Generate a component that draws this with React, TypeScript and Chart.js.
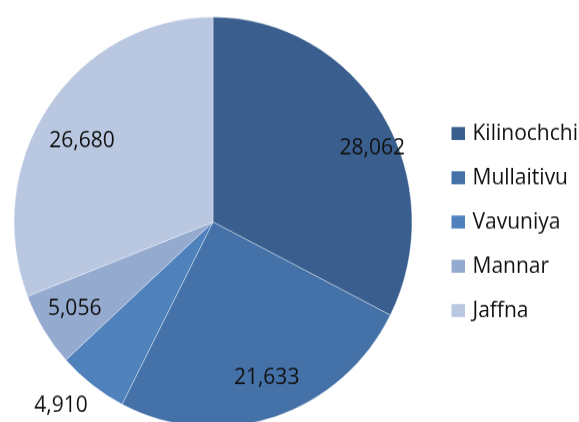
import React, { useEffect, useRef } from "react";
import { Chart, registerables } from "chart.js";

Chart.register(...registerables);

// ---- data ----
const categories = ["Kilinochchi", "Mullaitivu", "Vavuniya", "Mannar", "Jaffna"];
const values = [28062, 21633, 4910, 5056, 26680];
const colors = ["#3A5F8E", "#4472A8", "#4F81BD", "#95AACF", "#B9C7E1"];

// label placement relative to each slice (fraction of radius, angle nudge in degrees)
const labelRadius = [0.88, 0.8, 1.175, 0.81, 0.77];
const labelAngleShift = [6.9, -1.8, 3.1, 0.9, -3.1];

// ---- canvas geometry ----
const CSS_W = 579;
const CSS_H = 450;
const ATTR_H = 437;
const S = ATTR_H / CSS_H; // vertical squeeze (reference pie is slightly taller than wide)

const FONT = "21px 'Open Sans', 'DejaVu Sans', sans-serif";

const labelPlugin = {
  id: "sliceLabels",
  afterDatasetsDraw(chart: any) {
    const ctx = chart.ctx;
    const meta = chart.getDatasetMeta(0);
    ctx.save();
    ctx.font = FONT;
    ctx.fillStyle = "#111111";
    ctx.textAlign = "center";
    ctx.textBaseline = "alphabetic";
    meta.data.forEach((arc: any, i: number) => {
      const p = arc.getProps(["x", "y", "startAngle", "endAngle", "outerRadius"], true);
      const mid = (p.startAngle + p.endAngle) / 2 + (labelAngleShift[i] * Math.PI) / 180;
      const r = p.outerRadius * labelRadius[i];
      const x = p.x + r * Math.cos(mid);
      const y = p.y + r * Math.sin(mid);
      ctx.fillText(values[i].toLocaleString("en-US"), x, y + 7.4 * S);
    });
    ctx.restore();
  },
};

const legendPlugin = {
  id: "sideLegend",
  afterDraw(chart: any) {
    const ctx = chart.ctx;
    const area = chart.chartArea;
    const boxX = area.right + 39;
    const textX = boxX + 21;
    const firstBoxTop = 127 * S;
    const step = 44.25 * S;
    ctx.save();
    ctx.font = FONT;
    ctx.textAlign = "left";
    ctx.textBaseline = "alphabetic";
    categories.forEach((name, i) => {
      const top = firstBoxTop + i * step;
      ctx.fillStyle = colors[i];
      ctx.fillRect(boxX, top, 13.5, 13 * S);
      ctx.fillStyle = "#111111";
      ctx.fillText(name, textX, top + 13.2 * S);
    });
    ctx.restore();
  },
};

export default function App() {
  const ref = useRef<HTMLCanvasElement | null>(null);

  useEffect(() => {
    if (!ref.current) return;
    const chart = new Chart(ref.current, {
      type: "pie",
      data: {
        labels: categories,
        datasets: [
          {
            data: values,
            backgroundColor: colors,
            borderColor: "rgba(255,255,255,0.35)",
            borderWidth: 1,
          },
        ],
      },
      options: {
        responsive: false,
        devicePixelRatio: 1,
        animation: false,
        events: [],
        rotation: 0,
        layout: {
          padding: { left: 13.5, right: 166.5, top: 16.1, bottom: 21.9 },
        },
        plugins: {
          legend: { display: false },
          tooltip: { enabled: false },
        },
      },
      plugins: [labelPlugin, legendPlugin],
    });
    return () => chart.destroy();
  }, []);

  return (
    <div
      style={{
        position: "fixed",
        left: 0,
        top: 0,
        width: CSS_W,
        height: 422,
        overflow: "hidden",
        background: "#ffffff",
      }}
    >
      <canvas
        ref={ref}
        width={CSS_W}
        height={ATTR_H}
        style={{ width: CSS_W + "px", height: CSS_H + "px", display: "block" }}
      />
    </div>
  );
}
